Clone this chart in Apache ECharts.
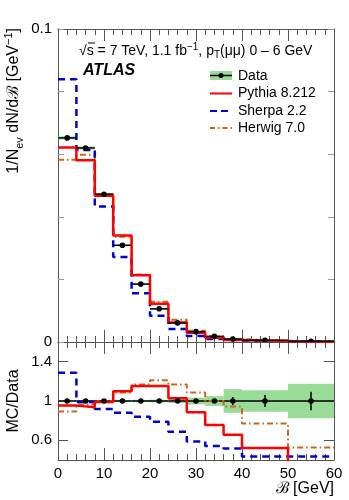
<!DOCTYPE html>
<html>
<head>
<meta charset="utf-8">
<script src="https://cdn.jsdelivr.net/npm/echarts@6/dist/echarts.min.js"></script>
<style>
html, body { margin: 0; padding: 0; background: #fff; }
#main { width: 349px; height: 500px; }
</style>
</head>
<body>
<div id="main"></div>
<script>
// bin edges in GeV
var edges = [0, 4, 8, 12, 16, 20, 24, 28, 32, 36, 40, 50, 60];
// measured 1/N dN/dB per bin
var dataVals = [0.0652, 0.0620, 0.0472, 0.0309, 0.0185, 0.0106, 0.0061, 0.0033, 0.0018, 0.00096, 0.00052, 0.00022];
// relative total uncertainty (green band) and stat error bars
var dataBand = [0.008, 0.008, 0.008, 0.008, 0.01, 0.013, 0.02, 0.035, 0.05, 0.12, 0.11, 0.175];
var dataStat = [0.002, 0.002, 0.003, 0.004, 0.005, 0.006, 0.008, 0.012, 0.018, 0.04, 0.06, 0.095];
// MC / Data per bin
var pythiaRatio = [0.953, 0.937, 0.99, 1.10, 1.153, 1.153, 1.027, 0.885, 0.755, 0.657, 0.522, 0.30];
var sherpaRatio = [1.287, 0.99, 0.918, 0.88, 0.84, 0.789, 0.687, 0.588, 0.543, 0.517, 0.435, 0.435];
var herwigRatio = [0.893, 0.965, 1.0, 1.087, 1.167, 1.21, 1.167, 1.087, 1.0, 0.943, 0.77, 0.527];

var FONT = 'Liberation Sans, Arial, sans-serif';
var GREEN = '#98dc98';
var RED = '#ff0000';
var BLUE = '#0000d0';
var ORANGE = '#c8661a';
var FRAME = '#555';

function steps(vals) {
  var pts = [];
  for (var i = 0; i < vals.length; i++) {
    pts.push([edges[i], vals[i]]);
    pts.push([edges[i + 1], vals[i]]);
  }
  return pts;
}
function times(r) {
  return r.map(function (v, i) { return v * dataVals[i]; });
}
// [lo, hi, center, value, bandLow, bandHigh, errLow, errHigh]
function binRows(vals) {
  return vals.map(function (v, i) {
    return [edges[i], edges[i + 1], (edges[i] + edges[i + 1]) / 2, v,
      v * (1 - dataBand[i]), v * (1 + dataBand[i]),
      v * (1 - dataStat[i]), v * (1 + dataStat[i])];
  });
}
var mainRows = binRows(dataVals);
var ratioRows = binRows(dataVals.map(function () { return 1; }));

function bandItem(params, api) {
  var a = api.coord([api.value(0), api.value(5)]);
  var b = api.coord([api.value(1), api.value(4)]);
  return { type: 'rect', shape: { x: a[0], y: a[1], width: b[0] - a[0], height: Math.max(b[1] - a[1], 1.5) },
    style: { fill: GREEN } };
}
function errItem(params, api) {
  var l = api.coord([api.value(0), api.value(3)]);
  var r = api.coord([api.value(1), api.value(3)]);
  var lo = api.coord([api.value(2), api.value(6)]);
  var hi = api.coord([api.value(2), api.value(7)]);
  return { type: 'group', children: [
    { type: 'line', shape: { x1: l[0], y1: l[1], x2: r[0], y2: r[1] }, style: { stroke: '#000', lineWidth: 1.5 } },
    { type: 'line', shape: { x1: lo[0], y1: lo[1], x2: hi[0], y2: hi[1] }, style: { stroke: '#000', lineWidth: 1.5 } }
  ] };
}
function ptItem(params, api) {
  var c = api.coord([api.value(2), api.value(3)]);
  return { type: 'circle', shape: { cx: c[0], cy: c[1], r: 2.8 }, style: { fill: '#000' } };
}

function xAx(grid, pos, labels) {
  return {
    type: 'value', gridIndex: grid, position: pos, min: 0, max: 60, interval: 10,
    axisLine: { show: true, onZero: false, lineStyle: { color: FRAME, width: 1 } },
    axisTick: { show: true, inside: true, length: 12, lineStyle: { color: FRAME } },
    minorTick: { show: true, splitNumber: 5, length: 6, lineStyle: { color: FRAME } },
    splitLine: { show: false },
    axisLabel: { show: labels, color: '#000', fontSize: 15, fontFamily: FONT, margin: 6 }
  };
}
function yMain(pos, labels) {
  return {
    type: 'value', gridIndex: 0, position: pos, min: 0, max: 0.1, interval: 0.02,
    axisLine: { show: true, onZero: false, lineStyle: { color: FRAME } },
    axisTick: { show: true, inside: true, length: 6, lineStyle: { color: '#999' } },
    splitLine: { show: false },
    axisLabel: { show: labels, color: '#000', fontSize: 15, fontFamily: FONT, margin: 6,
      formatter: function (v) { return v === 0 ? '0' : (Math.abs(v - 0.1) < 1e-9 ? '0.1' : ''); } }
  };
}
function yRatio(pos, labels) {
  return {
    type: 'value', gridIndex: 1, position: pos, min: 0.4, max: 1.6,
    axisLine: { show: true, onZero: false, lineStyle: { color: FRAME } },
    axisTick: { show: true, inside: true, length: 10, customValues: [0.6, 1, 1.4], lineStyle: { color: FRAME } },
    splitLine: { show: false },
    axisLabel: { show: labels, customValues: [0.6, 1, 1.4], color: '#000', fontSize: 15, fontFamily: FONT, margin: 6 }
  };
}
function stepLine(name, vals, x, y, color, width, dash, z) {
  return { name: name, type: 'line', xAxisIndex: x, yAxisIndex: y, data: steps(vals), symbol: 'none',
    clip: true, animation: false, z: z,
    lineStyle: { color: color, width: width, type: dash } };
}

var chart = echarts.init(document.getElementById('main'), null, { renderer: 'canvas' });

chart.setOption({
  animation: false,
  grid: [
    { left: 58, right: 15, top: 29, height: 313 },
    { left: 58, right: 15, top: 342, height: 118 }
  ],
  xAxis: [xAx(0, 'bottom', false), xAx(0, 'top', false), xAx(1, 'bottom', true), xAx(1, 'top', false)],
  yAxis: [yMain('left', true), yMain('right', false), yRatio('left', true), yRatio('right', false)],
  series: [
    { type: 'custom', xAxisIndex: 0, yAxisIndex: 0, data: mainRows, renderItem: bandItem, z: 1, clip: true },
    { type: 'custom', xAxisIndex: 2, yAxisIndex: 2, data: ratioRows, renderItem: bandItem, z: 1, clip: true },
    stepLine('Herwig 7.0', times(herwigRatio), 0, 0, ORANGE, 2, [6, 3, 1.5, 3], 2),
    stepLine('Sherpa 2.2', times(sherpaRatio), 0, 0, BLUE, 2.5, [7, 5], 3),
    stepLine('Pythia 8.212', times(pythiaRatio), 0, 0, RED, 2.5, 'solid', 4),
    { type: 'custom', xAxisIndex: 0, yAxisIndex: 0, data: mainRows, renderItem: errItem, z: 5, clip: true },
    { type: 'custom', xAxisIndex: 0, yAxisIndex: 0, data: mainRows, renderItem: ptItem, z: 6, clip: true },
    { type: 'custom', xAxisIndex: 2, yAxisIndex: 2, data: ratioRows, renderItem: errItem, z: 2, clip: true },
    stepLine('Herwig 7.0', herwigRatio, 2, 2, ORANGE, 2, [6, 3, 1.5, 3], 3),
    stepLine('Sherpa 2.2', sherpaRatio, 2, 2, BLUE, 2.5, [7, 5], 4),
    stepLine('Pythia 8.212', pythiaRatio, 2, 2, RED, 2.5, 'solid', 5),
    { type: 'custom', xAxisIndex: 2, yAxisIndex: 2, data: ratioRows, renderItem: ptItem, z: 6, clip: true }
  ],
  graphic: [
    { type: 'text', x: 14, y: 28, rotation: Math.PI / 2, z: 10,
      style: { text: '1/N{sub|ev} dN/dℬ [GeV{sup|−1}]', align: 'right', verticalAlign: 'middle',
        fontSize: 16, fontFamily: FONT, fill: '#000',
        rich: { sub: { fontSize: 11, fontFamily: FONT, verticalAlign: 'bottom', lineHeight: 22 },
                sup: { fontSize: 11, fontFamily: FONT, verticalAlign: 'top', lineHeight: 22 } } } },
    { type: 'text', x: 14, y: 401, rotation: Math.PI / 2, z: 10,
      style: { text: 'MC/Data', align: 'center', verticalAlign: 'middle', fontSize: 16, fontFamily: FONT, fill: '#000' } },
    { type: 'text', x: 334, y: 489, z: 10,
      style: { text: 'ℬ [GeV]', align: 'right', verticalAlign: 'middle', fontSize: 16, fontFamily: FONT, fill: '#000' } },
    { type: 'text', x: 83, y: 71, z: 10,
      style: { text: 'ATLAS', verticalAlign: 'middle', fontSize: 16, fontWeight: 'bold', fontStyle: 'italic', fontFamily: FONT, fill: '#000' } },
    { type: 'text', x: 79, y: 51, z: 10,
      style: { text: '√s = 7 TeV, 1.1 fb{sup|−1}, p{sub|T}(μμ) 0 – 6 GeV', verticalAlign: 'middle',
        fontSize: 14, fontFamily: FONT, fill: '#000',
        rich: { sub: { fontSize: 10, fontFamily: FONT, verticalAlign: 'bottom', lineHeight: 18 },
                sup: { fontSize: 10, fontFamily: FONT, verticalAlign: 'top', lineHeight: 18 } } } },
    { type: 'line', z: 10, shape: { x1: 88, y1: 43, x2: 95, y2: 43 }, style: { stroke: '#000', lineWidth: 1 } },
    // legend
    { type: 'rect', z: 10, shape: { x: 210, y: 71, width: 22, height: 9 }, style: { fill: GREEN } },
    { type: 'line', z: 11, shape: { x1: 210, y1: 75.5, x2: 232, y2: 75.5 }, style: { stroke: '#000', lineWidth: 1.5 } },
    { type: 'circle', z: 12, shape: { cx: 221, cy: 75.5, r: 2.5 }, style: { fill: '#000' } },
    { type: 'line', z: 10, shape: { x1: 210, y1: 93.5, x2: 232, y2: 93.5 }, style: { stroke: RED, lineWidth: 2 } },
    { type: 'line', z: 10, shape: { x1: 210, y1: 111, x2: 232, y2: 111 }, style: { stroke: BLUE, lineWidth: 2, lineDash: [7, 4] } },
    { type: 'line', z: 10, shape: { x1: 210, y1: 128, x2: 232, y2: 128 }, style: { stroke: ORANGE, lineWidth: 2, lineDash: [5, 3, 1.5, 3] } },
    { type: 'text', x: 238, y: 76, z: 10, style: { text: 'Data', verticalAlign: 'middle', fontSize: 14, fontFamily: FONT, fill: '#000' } },
    { type: 'text', x: 238, y: 93.5, z: 10, style: { text: 'Pythia 8.212', verticalAlign: 'middle', fontSize: 14, fontFamily: FONT, fill: '#000' } },
    { type: 'text', x: 238, y: 111, z: 10, style: { text: 'Sherpa 2.2', verticalAlign: 'middle', fontSize: 14, fontFamily: FONT, fill: '#000' } },
    { type: 'text', x: 238, y: 128, z: 10, style: { text: 'Herwig 7.0', verticalAlign: 'middle', fontSize: 14, fontFamily: FONT, fill: '#000' } }
  ]
});
</script>
</body>
</html>
